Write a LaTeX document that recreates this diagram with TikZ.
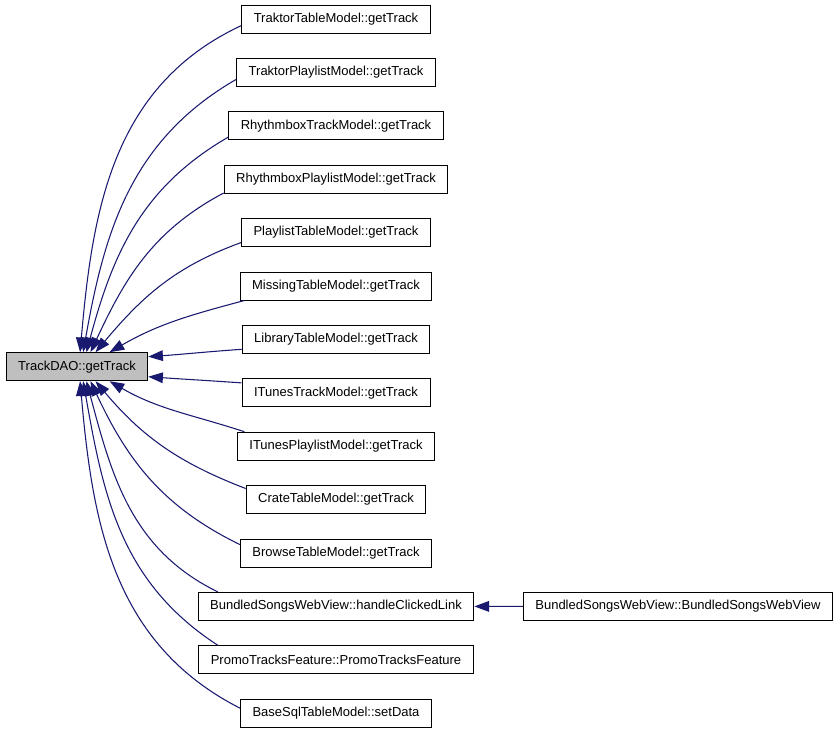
\documentclass[tikz,border=0pt]{standalone}
\usepackage{fontspec}
\setmainfont{Liberation Sans}
\usepackage{tikz}
\usetikzlibrary{arrows.meta}
\definecolor{callblue}{RGB}{25, 25, 112}
\definecolor{focusgray}{RGB}{191, 191, 191}

\begin{document}
\begin{tikzpicture}[x=0.75pt, y=0.75pt,
  fn/.style={draw, line width=0.75pt, fill=white, font=\fontsize{9.75}{11}\selectfont,
    minimum height=21pt, inner xsep=9pt, inner ysep=0pt},
  call/.style={callblue, line width=0.8pt, -{Triangle[length=11pt, width=8pt]}}]
  \useasboundingbox (0, 0) rectangle (840, -733);

  % Function whose callers are shown
  \node[fn, fill=focusgray] (dao) at (77, -366.7) {TrackDAO::getTrack};

  % Direct callers, one per row
  \foreach \n/\txt [count=\i from 0] in {tt/TraktorTableModel::getTrack,
      tp/TraktorPlaylistModel::getTrack, rt/RhythmboxTrackModel::getTrack,
      rp/RhythmboxPlaylistModel::getTrack, pt/PlaylistTableModel::getTrack,
      mt/MissingTableModel::getTrack, lt/LibraryTableModel::getTrack,
      itt/ITunesTrackModel::getTrack, itp/ITunesPlaylistModel::getTrack,
      ct/CrateTableModel::getTrack, bt/BrowseTableModel::getTrack,
      hcl/BundledSongsWebView::handleClickedLink,
      ptf/PromoTracksFeature::PromoTracksFeature,
      bst/BaseSqlTableModel::setData} {
    \node[fn] (\n) at (336, {-19 - 53.4*\i}) {\txt};
  }

  % Caller of the second level
  \node[fn] (bbv) at (678, -606.4) {BundledSongsWebView::BundledSongsWebView};

  % Calls into TrackDAO::getTrack
  \foreach \n/\sa/\out/\ta/\in in {tt/184/205/78/85, tp/184/210/67/80,
      rt/186/210/57/75, rp/187/208/47/65, pt/186/200/38/50, mt/189/195/24/30,
      lt/186/184/8/4, itt/174/176/352/356, itp/171/162/336/330,
      ct/173/159/322/310, bt/175/154/313/295, hcl/173/154/303/285,
      ptf/173/147/293/280, bst/177/153/282/275} {
    \draw[call] (\n.\sa) to[out=\out, in=\in] (dao.\ta);
  }
  \draw[call] (bbv) -- (hcl);
\end{tikzpicture}
\end{document}
